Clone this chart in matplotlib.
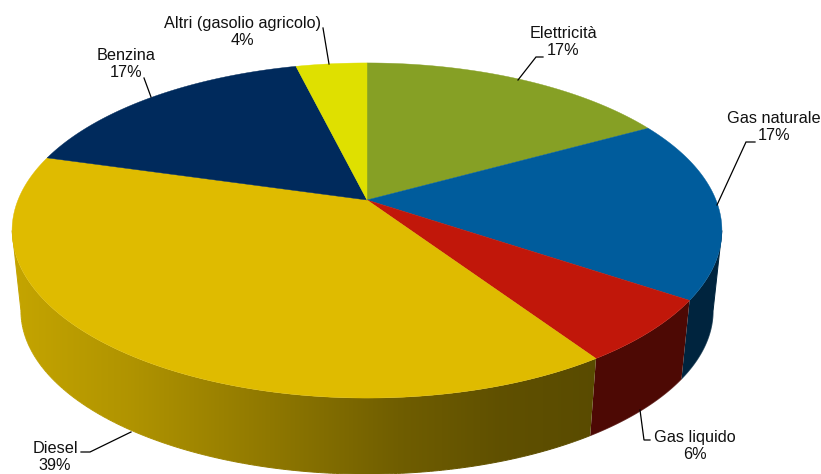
import numpy as np
import matplotlib
matplotlib.use("Agg")
import matplotlib.pyplot as plt
from matplotlib.patches import Polygon
from matplotlib.collections import LineCollection
from matplotlib.colors import to_rgb

labels = ["Elettricità", "Gas naturale", "Gas liquido", "Diesel", "Benzina", "Altri (gasolio agricolo)"]
values = [17.0, 17.4, 6.2, 38.8, 16.75, 3.85]
colors = ["#86A025", "#005C9C", "#C1170A", "#DFBB00", "#002A5C", "#DFE000"]
label_xy = [(563, 42), (774, 127), (695, 446), (55, 457), (126, 64), (242, 32)]
leaders = [
    [(518, 80), (536, 57), (543, 57)],
    [(717, 205), (746, 142), (755, 142)],
    [(640, 410), (644, 440), (650, 440)],
    [(131, 432), (90, 452), (81, 452)],
    [(151, 97), (144, 78)],
    [(329, 64), (323, 28)],
]

plt.rcParams["font.family"] = ["Liberation Sans", "DejaVu Sans"]
fig = plt.figure(figsize=(8.21, 4.74), dpi=100)
ax = fig.add_axes([0, 0, 1, 1])

CX, CY_TOP, CY_BOT = 367, 200, 281
A, B, K, S = 349, 162, 0.182, 0.975
W, H = 821, 474


def project(t, scale=1.0, cy=CY_TOP):
    u, v = np.sin(t), np.cos(t)
    d = 1 + K * v
    return CX + scale * A * u / d, cy - scale * B * v / d


def shade(x):
    return np.interp(x, [15, 130, 290, 400, 500, 600, 720], [0.88, 0.79, 0.62, 0.50, 0.43, 0.40, 0.40])


edges = np.cumsum([0] + values) / np.sum(values) * 2 * np.pi
xgrid = np.arange(W) + 0.5
T_SIDE = np.arccos(-K)  # where the rim is widest: the wall's silhouette starts here

for i, col in enumerate(colors):
    lo, hi = max(edges[i], T_SIDE), min(edges[i + 1], 2 * np.pi - T_SIDE)
    if lo >= hi:
        continue
    ts = np.linspace(lo, hi, 200)
    xt, yt = project(ts)
    xb, yb = project(ts, S, CY_BOT)
    base = np.array(to_rgb(col))
    grad = (base[None, :] * shade(xgrid)[:, None])[None, :, :]
    im = ax.imshow(grad, extent=(0, W, H, 0), aspect="auto", interpolation="nearest", zorder=1)
    poly = Polygon(list(zip(xt, yt)) + list(zip(xb[::-1], yb[::-1])), closed=True,
                   transform=ax.transData, facecolor="none", edgecolor="none")
    ax.add_patch(poly)
    im.set_clip_path(poly)
    # smooth the outline of the wall: bottom rim and, at the two ends, the side edge
    ox, oy = xb, yb
    if lo == T_SIDE:
        ox, oy = np.r_[xt[0], ox], np.r_[yt[0], oy]
    if hi == 2 * np.pi - T_SIDE:
        ox, oy = np.r_[ox, xt[-1]], np.r_[oy, yt[-1]]
    segs = np.stack([np.column_stack([ox[:-1], oy[:-1]]), np.column_stack([ox[1:], oy[1:]])], axis=1)
    cols = [tuple(base * shade((a + b) / 2)) for a, b in zip(ox[:-1], ox[1:])]
    ax.add_collection(LineCollection(segs, colors=cols, linewidths=0.7, zorder=1.5))

for i, col in enumerate(colors):
    ts = np.linspace(edges[i], edges[i + 1], 200)
    xs, ys = project(ts)
    pts = [(CX, CY_TOP)] + list(zip(xs, ys))
    ax.add_patch(Polygon(pts, closed=True, facecolor=col, edgecolor=col, linewidth=0.3, zorder=2))

for line in leaders:
    lx, ly = zip(*line)
    ax.plot(lx, ly, color="black", lw=0.9, zorder=3, solid_joinstyle="miter")

for name, val, (x, y) in zip(labels, values, label_xy):
    ax.text(x, y, f"{name}\n{val:.0f}%", ha="center", va="center", fontsize=11.7,
            color="#111111", linespacing=1.2, zorder=4)

ax.set_xlim(0, W)
ax.set_ylim(H, 0)
ax.axis("off")
fig.savefig("out.png", dpi=100, facecolor="white")
